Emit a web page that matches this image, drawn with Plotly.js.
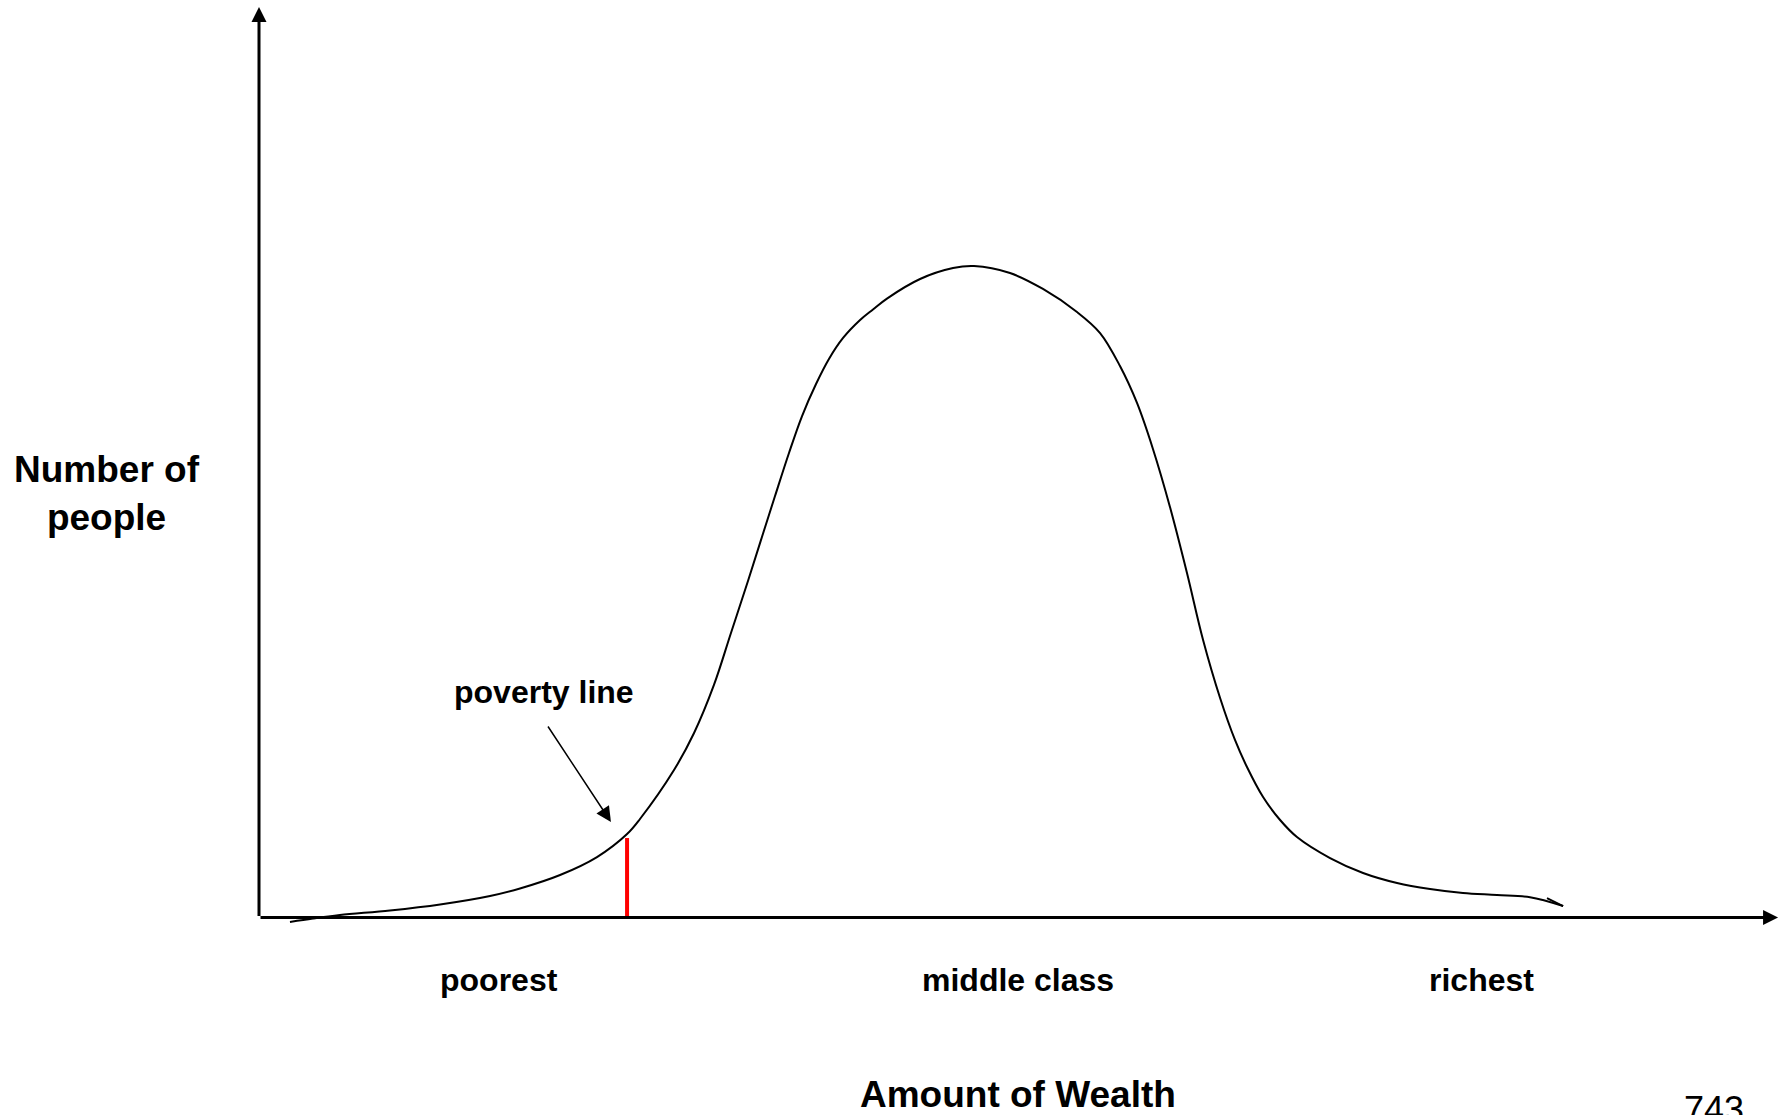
<!DOCTYPE html>
<html>
<head>
<meta charset="utf-8">
<script src="https://cdn.plot.ly/plotly-3.0.1.min.js"></script>
<style>
  html, body { margin: 0; padding: 0; background: #ffffff; }
  #chart { width: 1787px; height: 1115px; }
</style>
</head>
<body>
<div id="chart"></div>
<script>
// ---- data (wealth on x, number of people on y; arbitrary units) ----
const wealth = [2.04, 3.55, 5.33, 8.62, 11.92, 15.21, 17.18, 19.82, 22.25, 24.23,
  25.08, 27.32, 28.64, 29.95, 31.07, 32.19, 33.11, 33.97, 34.89, 35.75,
  36.67, 37.52, 38.45, 39.57, 40.42, 41.34, 43.52, 45.69, 47.07, 49.44,
  51.61, 53.85, 55.37, 56.68, 57.80, 58.85, 59.97, 61.09, 62.15, 63.27,
  64.25, 65.04, 66.10, 67.22, 68.33, 70.51, 72.68, 74.92, 77.09, 79.26,
  81.50, 83.67, 85.85];
const people = [-0.49, -0.11, 0.27, 0.77, 1.43, 2.36, 3.19, 4.67, 6.64, 9.17,
  10.82, 16.20, 20.26, 25.54, 31.25, 36.96, 41.79, 46.29, 51.02, 55.08,
  58.59, 61.34, 63.65, 65.62, 66.78, 67.98, 70.13, 71.33, 71.55, 70.78,
  69.03, 66.50, 64.19, 60.57, 56.51, 51.46, 45.09, 37.84, 30.48, 24.11,
  19.50, 16.53, 13.23, 10.71, 8.84, 6.53, 4.89, 3.79, 3.13, 2.69,
  2.47, 2.22, 1.26];
// small hand-drawn hook at the end of the curve
const hookWealth = [84.79, 85.85];
const hookPeople = [2.14, 1.26];

const povertyWealth = 24.23;
const povertyTop = 8.73;

const categories = ['poorest', 'middle class', 'richest'];
const categoryWealth = [15.8, 49.97, 80.5];

const xTitle = 'Amount of Wealth';
const yTitle = 'Number of<br>people';
const povertyLabel = 'poverty line';
const pageNumber = '743';

// ---- drawing ----
const FONT = 'Liberation Sans, Arial, Helvetica, sans-serif';
const X_RANGE = [-17.05, 100.59];
const Y_RANGE = [-21.69, 100.77];
const AXIS_TIP = 100;

const traces = [
  {
    type: 'scatter', mode: 'lines', x: wealth, y: people,
    line: { color: '#000000', width: 2, shape: 'spline', smoothing: 1 },
    hoverinfo: 'skip'
  },
  {
    type: 'scatter', mode: 'lines', x: hookWealth, y: hookPeople,
    line: { color: '#000000', width: 2 },
    hoverinfo: 'skip'
  },
  {
    type: 'scatter', mode: 'lines', x: [povertyWealth, povertyWealth], y: [0, povertyTop],
    line: { color: '#FF0000', width: 4 },
    hoverinfo: 'skip'
  }
];

const annotations = [];
// axes as arrows
annotations.push({
  x: AXIS_TIP, y: 0, ax: 0, ay: 0, xref: 'x', yref: 'y', axref: 'x', ayref: 'y',
  text: '', showarrow: true, arrowhead: 2, arrowsize: 1, arrowwidth: 3, arrowcolor: '#000000',
  standoff: 0, startstandoff: 0
});
annotations.push({
  x: 0, y: AXIS_TIP, ax: 0, ay: 0, xref: 'x', yref: 'y', axref: 'x', ayref: 'y',
  text: '', showarrow: true, arrowhead: 2, arrowsize: 1, arrowwidth: 3, arrowcolor: '#000000',
  standoff: 0, startstandoff: 0
});
// poverty line pointer
annotations.push({
  x: 23.17, y: 10.49, ax: 18.96, ay: 21.14, xref: 'x', yref: 'y', axref: 'x', ayref: 'y',
  text: '', showarrow: true, arrowhead: 2, arrowsize: 2, arrowwidth: 1.5, arrowcolor: '#000000',
  standoff: 0, startstandoff: 0
});
annotations.push({
  x: 18.76, y: 24.77, xref: 'x', yref: 'y', text: povertyLabel, showarrow: false,
  xanchor: 'center', yanchor: 'middle',
  font: { family: FONT, size: 32, color: '#000000', weight: 'bold' }
});
// category labels
categories.forEach((c, i) => {
  annotations.push({
    x: categoryWealth[i], y: -6.86, xref: 'x', yref: 'y', text: c, showarrow: false,
    xanchor: 'center', yanchor: 'middle',
    font: { family: FONT, size: 32, color: '#000000', weight: 'bold' }
  });
});
// axis titles
annotations.push({
  x: 49.97, y: -19.39, xref: 'x', yref: 'y', text: xTitle, showarrow: false,
  xanchor: 'center', yanchor: 'middle',
  font: { family: FONT, size: 37, color: '#000000', weight: 'bold' }
});
annotations.push({
  x: -10.0, y: 46.6, xref: 'x', yref: 'y', text: yTitle, showarrow: false,
  xanchor: 'center', yanchor: 'middle', align: 'center',
  font: { family: FONT, size: 37, color: '#000000', weight: 'bold' }
});
// page number (partly cut by the bottom edge, as in the reference)
annotations.push({
  x: 95.79, y: -21.14, xref: 'x', yref: 'y', text: pageNumber, showarrow: false,
  xanchor: 'center', yanchor: 'middle',
  font: { family: FONT, size: 36, color: '#000000' }
});

const layout = {
  width: 1787, height: 1115,
  margin: { l: 0, r: 0, t: 0, b: 0, pad: 0 },
  paper_bgcolor: '#ffffff', plot_bgcolor: '#ffffff',
  showlegend: false,
  xaxis: { range: X_RANGE, visible: false, fixedrange: true },
  yaxis: { range: Y_RANGE, visible: false, fixedrange: true },
  annotations: annotations
};

Plotly.newPlot('chart', traces, layout, { displayModeBar: false, staticPlot: true });
</script>
</body>
</html>
